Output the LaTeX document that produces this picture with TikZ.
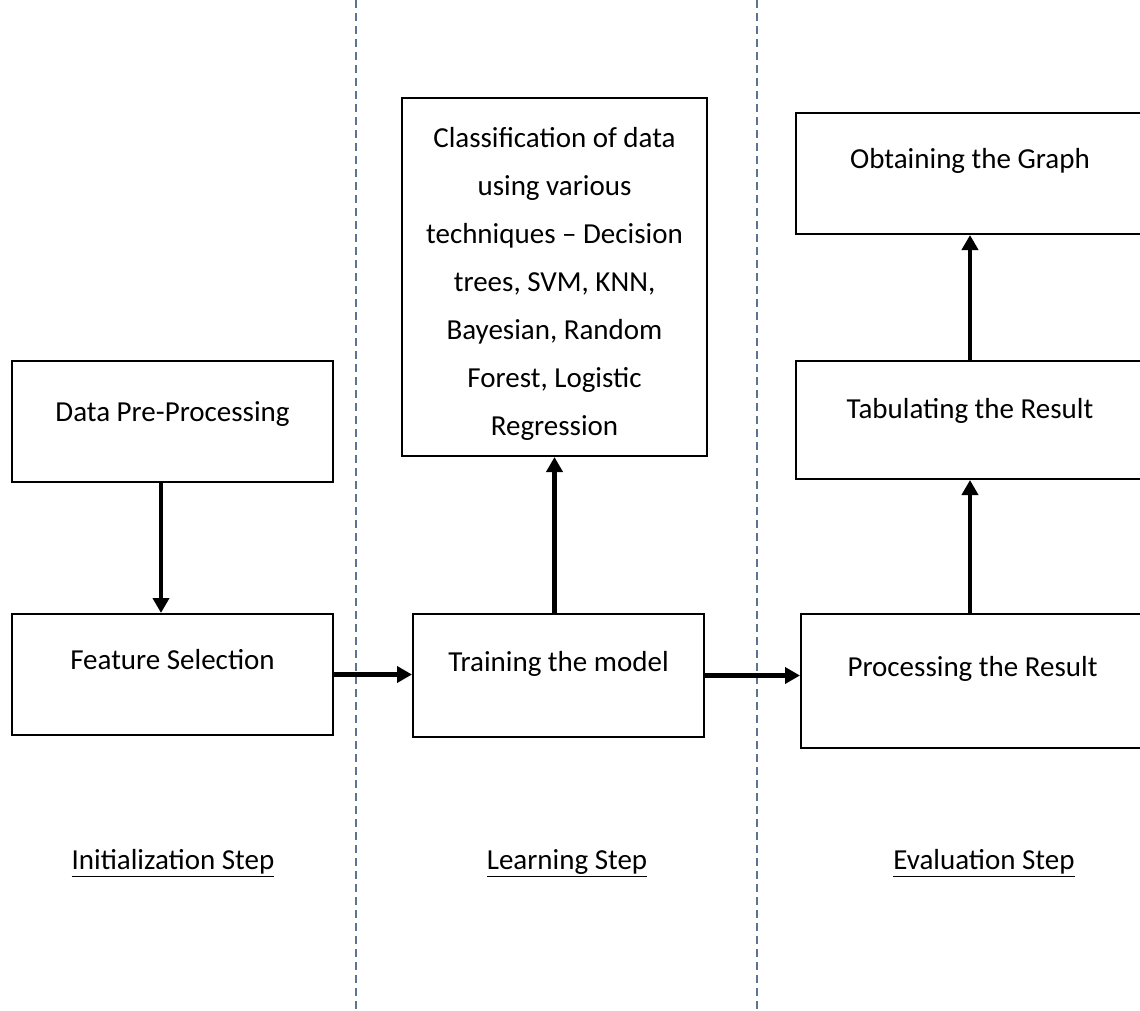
\documentclass[tikz,border=0pt]{standalone}
\usepackage{fontspec}
\setmainfont{Carlito}
\usetikzlibrary{arrows.meta}

\definecolor{sepblue}{RGB}{95,115,145}

\tikzset{
  blk/.style n args={3}{draw, line width=1pt, inner sep=0pt, align=flush center,
    anchor=north west, text width=#1, text height=#2, text depth=#3},
  arr/.style={line width=2.4pt, -{Triangle[length=7.5pt,width=8pt]}},
  sep/.style={draw=sepblue, line width=0.6pt, dash pattern=on 4pt off 2.5pt},
  steplbl/.style={anchor=base}
}

\begin{document}
\begin{tikzpicture}[x=0.5pt, y=-0.5pt, font=\fontsize{14.5}{24}\selectfont]
                \useasboundingbox (0,0) rectangle (1140,1011);

                % Draw the two dashed separators
                \draw[sep] (356,0) -- (356,1011);
                \draw[sep] (757,0) -- (757,1011);

                % Initialization step
                \node[blk={160.5pt}{30pt}{30.5pt}] (dpp) at (11,360) {Data Pre-Processing};
                \node[blk={160.5pt}{27.5pt}{33pt}] (fs) at (11,613) {Feature Selection};

                % Learning step
                \node[blk={145.5pt}{28.5pt}{33pt}] (tm) at (412,613) {Training the model};
                \node[blk={152.5pt}{25pt}{154pt}] (cls) at (401,97)
                {Classification of data\\ using various\\ techniques -- Decision\\
                 trees, SVM, KNN,\\ Bayesian, Random\\ Forest, Logistic\\ Regression};

                % Evaluation step
                \node[blk={174pt}{28pt}{32.5pt}] (obt) at (795,112) {Obtaining the Graph};
                \node[blk={174pt}{28.5pt}{30.5pt}] (tab) at (795,360) {Tabulating the Result};
                \node[blk={171.5pt}{31pt}{36pt}] (proc) at (800,613) {Processing the Result};

                % Draw the arrows between the boxes
                \draw[arr] ([xshift=-5.75pt]dpp.south) -- ([xshift=-5.75pt]fs.north);
                \draw[arr] (fs.east) -- (fs.east -| tm.west);
                \draw[arr] (tm.north -| cls.south) -- (cls.south);
                \draw[arr] (tm.east) -- (tm.east -| proc.west);
                \draw[arr] (tab.south |- proc.north) -- (tab.south);
                \draw[arr] (tab.north) -- (obt.south);

                % Step labels
                \node[steplbl] (init) at (173,869) {\underline{Initialization Step}};
                \node[steplbl] (learn) at (567,869) {\underline{Learning Step}};
                \node[steplbl] (eval) at (984,869) {\underline{Evaluation Step}};

\end{tikzpicture}
\end{document}
